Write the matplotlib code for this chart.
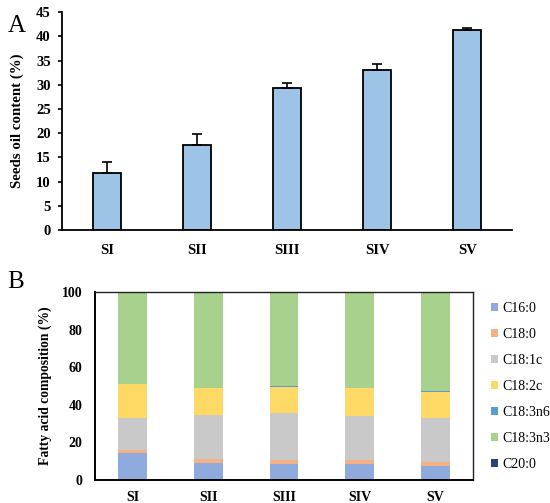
import matplotlib
matplotlib.use("Agg")
import matplotlib.pyplot as plt
import numpy as np

plt.rcParams['font.family'] = ['Liberation Serif', 'DejaVu Serif']

# Panel A data
stages = ["SI", "SII", "SIII", "SIV", "SV"]
oil_content = [11.7, 17.5, 29.3, 33.1, 41.4]
oil_err = [2.3, 2.3, 1.1, 1.2, 0.3]

# Panel B data
fatty_acids = ["C16:0", "C18:0", "C18:1c", "C18:2c", "C18:3n6", "C18:3n3", "C20:0"]
c16_0 = [14.2, 8.9, 8.7, 8.6, 7.5]
c18_0 = [2.0, 2.1, 2.1, 2.0, 2.3]
c18_1c = [16.9, 23.8, 24.9, 23.5, 23.4]
c18_2c = [17.8, 14.0, 13.8, 14.8, 13.8]
c18_3n6 = [0.2, 0.2, 0.3, 0.2, 0.2]
c18_3n3 = [48.7, 50.8, 50.0, 50.7, 52.6]
c20_0 = [0.2, 0.2, 0.2, 0.2, 0.2]
fa_colors = ["#8FAADC", "#F4B183", "#C9C9C9", "#FFD966", "#5B9BD5", "#A9D18E", "#264478"]

fig = plt.figure(figsize=(5.5, 5.03), dpi=100)

# ---- Panel A ----
axA = fig.add_axes([0.1127, 0.5427, 0.8185, 0.4333])
x = np.arange(len(stages))
axA.bar(x, oil_content, width=0.31, color="#9DC3E6", edgecolor="black", linewidth=1.3,
        yerr=[[0]*len(oil_err), oil_err], capsize=3.5,
        error_kw=dict(elinewidth=1.2, capthick=1.2, ecolor="black"), zorder=2)
axA.set_xlim(-0.5, 4.5)
axA.set_ylim(0, 45)
axA.set_yticks(np.arange(0, 46, 5))
axA.set_xticks(x)
axA.set_xticklabels(stages)
axA.spines['top'].set_visible(False)
axA.spines['right'].set_visible(False)
for s in ['left', 'bottom']:
    axA.spines[s].set_linewidth(1.3)
axA.tick_params(axis='y', length=3, width=1.2, direction='out', labelsize=10.5, pad=5)
axA.tick_params(axis='x', length=0, labelsize=10.5, pad=10)
for lab in axA.get_xticklabels() + axA.get_yticklabels():
    lab.set_fontweight('bold')
axA.set_ylabel("Seeds oil content (%)", fontsize=10.7, fontweight='bold', labelpad=9)
fig.text(0.014, 0.936, "A", fontsize=18)

# ---- Panel B ----
axB = fig.add_axes([0.1727, 0.0457, 0.6873, 0.3738])
series = [c16_0, c18_0, c18_1c, c18_2c, c18_3n6, c18_3n3, c20_0]
bottom = np.zeros(len(stages))
for name, vals, col in zip(fatty_acids, series, fa_colors):
    axB.bar(x, vals, width=0.38, bottom=bottom, color=col, label=name, zorder=2)
    bottom += np.array(vals)
axB.set_xlim(-0.5, 4.5)
axB.set_ylim(0, 100)
axB.set_yticks(np.arange(0, 101, 20))
axB.set_xticks(x)
axB.set_xticklabels(stages)
for s in ['top', 'right']:
    axB.spines[s].set_linewidth(1.0)
    axB.spines[s].set_color("#222222")
for s in ['left', 'bottom']:
    axB.spines[s].set_linewidth(1.4)
axB.tick_params(axis='both', length=0, labelsize=10)
axB.tick_params(axis='y', pad=9)
axB.tick_params(axis='x', pad=8)
for lab in axB.get_xticklabels() + axB.get_yticklabels():
    lab.set_fontweight('bold')
axB.set_ylabel("Fatty acid composition (%)", fontsize=9.8, fontweight='bold', labelpad=7)
axB.legend(loc='upper left', bbox_to_anchor=(1.048, 0.945), frameon=False, fontsize=10,
           handlelength=0.5, handleheight=0.5, handletextpad=0.3, labelspacing=0.93,
           borderaxespad=0, borderpad=0)
fig.text(0.014, 0.428, "B", fontsize=18)

fig.savefig("out.png", dpi=100)
